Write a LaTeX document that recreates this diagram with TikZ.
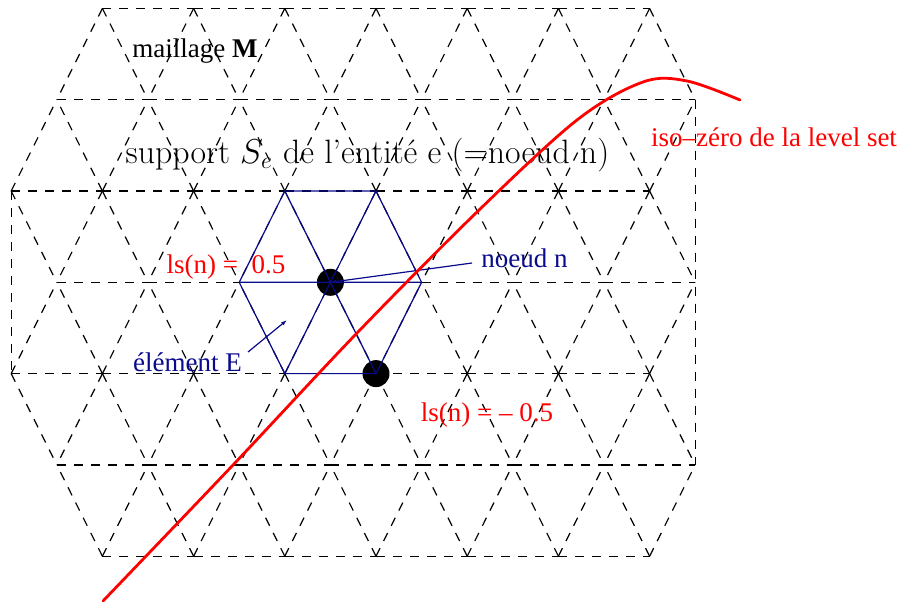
\documentclass[tikz,border=0pt]{standalone}
\usepackage{fontspec}
\newfontfamily\tms{Liberation Serif}
\usetikzlibrary{arrows.meta}
\definecolor{mred}{RGB}{255,0,0}
\definecolor{mblue}{RGB}{10,10,140}
\begin{document}
\begin{tikzpicture}[x=0.5pt,y=-0.5pt,
  mesh/.style={draw=black,line width=0.6pt,dash pattern=on 4.5pt off 4pt},
  supp/.style={draw=mblue,line width=0.6pt},
  dot/.style={circle,fill=black,inner sep=0pt,minimum size=13.5pt},
  tlabel/.style={font=\tms\fontsize{13.5}{16}\selectfont,inner sep=0pt,anchor=base},
  iso/.style={draw=mred,line width=1.4pt,line cap=round},
  ptr/.style={draw=mblue,line width=0.6pt,-{Latex[length=3pt,width=2pt]}}]
\useasboundingbox (0,0) rectangle (904,601);
% horizontal edges
\foreach \j/\s in {0/1,2/0,4/0,6/1}{
  \foreach \k in {\s,...,6}{
    \draw[mesh] ({11.2+91.2*\k},{8.4+91.3*\j}) -- ({11.2+91.2*(\k+1)},{8.4+91.3*\j});
  }
}
\foreach \j in {1,3,5}{
  \foreach \k in {0,...,6}{
    \draw[mesh] ({56.8+91.2*\k},{8.4+91.3*\j}) -- ({56.8+91.2*(\k+1)},{8.4+91.3*\j});
  }
}
% slanted edges
\foreach \j/\s in {0/1,2/0,4/0,6/1}{
  \foreach \k in {\s,...,7}{
    \pgfmathsetmacro\xx{11.2+91.2*\k}
    \pgfmathsetmacro\yy{8.4+91.3*\j}
    \ifnum\j>0
      \draw[mesh] (\xx,\yy) -- ({\xx+45.6},{\yy-91.3});
      \ifnum\k>0 \draw[mesh] (\xx,\yy) -- ({\xx-45.6},{\yy-91.3}); \fi
    \fi
    \ifnum\j<6
      \draw[mesh] (\xx,\yy) -- ({\xx+45.6},{\yy+91.3});
      \ifnum\k>0 \draw[mesh] (\xx,\yy) -- ({\xx-45.6},{\yy+91.3}); \fi
    \fi
  }
}
% boundary verticals
\draw[mesh] (11.2,191.0) -- (11.2,373.6);
\draw[mesh] (695.2,99.7) -- (695.2,464.9);
% support of node n
\coordinate (hL) at (239.2,282.3);
\coordinate (hR) at (421.6,282.3);
\coordinate (hTL) at (284.8,191.0);
\coordinate (hTR) at (376,191.0);
\coordinate (hBL) at (284.8,373.6);
\coordinate (hBR) at (376,373.6);
\node[dot] (n) at (330.4,282.3) {};
\node[dot] (m) at (hBR) {};
\draw[supp] (hL) -- (hTL) -- (hTR) -- (hR) -- (hBR) -- (hBL) -- cycle;
\draw[supp] (hL) -- (hR) (hTL) -- (hBR) (hTR) -- (hBL);
% labels
\node[tlabel] (lmail) at (195,57) {maillage \textbf{M}};
\node[font=\fontsize{16.9}{20}\selectfont,inner sep=0pt,anchor=base] (lsupp) at (367.5,163) {support $S_e$ de l'entité e (=noeud n)};
\node[tlabel,text=mred] (lpos) at (226,273) {ls(n) = \ 0.5};
\node[tlabel,text=mblue] (lnoeud) at (524.5,267) {noeud n};
\node[tlabel,text=mblue] (lelem) at (187.5,371) {élément E};
\node[tlabel,text=mred] (lneg) at (487,421) {ls(n) = – 0.5};
\node[tlabel,text=mred] (liso) at (774,146) {iso–zéro de la level set};
% pointers
\coordinate (nstart) at (472,263);
\draw[ptr] (nstart) -- (n.center);
\coordinate (estart) at (248,352);
\coordinate (eend) at (287,320);
\draw[ptr] (estart) -- (eend);
% iso-zero curve
\draw[iso] plot[smooth,tension=0.55] coordinates {(103,601) (233,465) (357,333) (477,212) (577,120) (643,82) (687,81) (740,100)};
\end{tikzpicture}
\end{document}
